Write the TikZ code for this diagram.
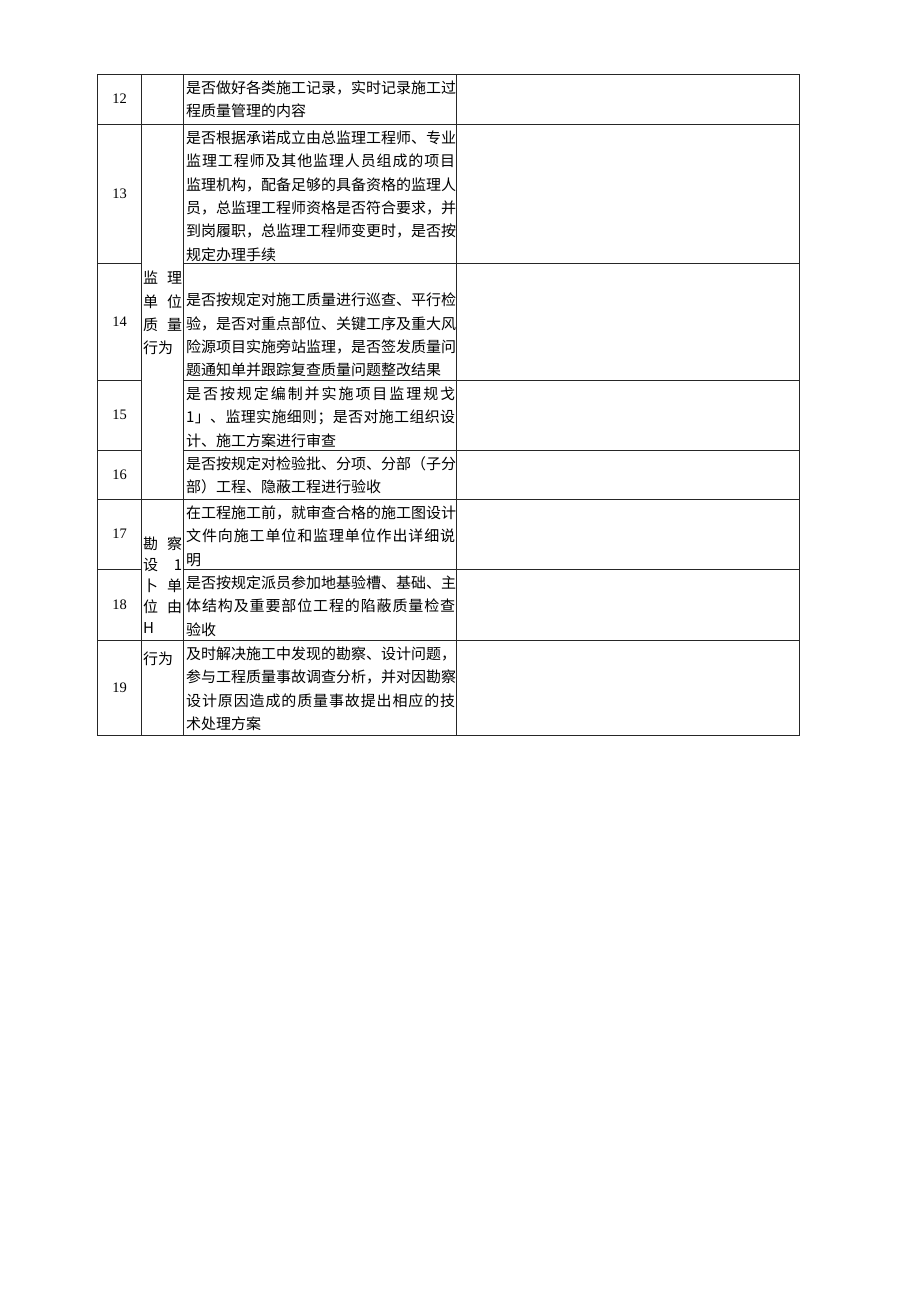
\documentclass[tikz,border=0pt]{standalone}
\usepackage{fontspec}
\setmainfont{Liberation Serif}
\newfontfamily\cjk{Noto Sans CJK SC}
% spread the characters of one line over the whole cell width
\newcommand\spreadaux[1]{\ifx\relax#1\else#1\hfil\expandafter\spreadaux\fi}
\newcommand\fullline[1]{\hbox to 269pt{\spreadaux#1\relax\unskip}}
\newcommand\lastline[1]{\hbox{#1}}
\newcommand\cellbox[2][23.4pt]{\vtop{\baselineskip=#1\lineskiplimit=-20pt\lineskip=0pt#2}}
\newcommand\pairline[2]{\hbox to 39pt{#1\hfil #2}}
\begin{document}
\begin{tikzpicture}[x=1pt,y=-1pt,
  rule/.style={draw=black!85,line width=0.7pt},
  num/.style={font=\fontsize{14.5}{16}\selectfont,inner sep=0pt},
  desc/.style={anchor=base west,inner sep=0pt,font=\cjk\fontsize{15}{23.4}\selectfont}]
\useasboundingbox (0,0) rectangle (920,1301);
% table rules
\draw[rule] (97.7,74) rectangle (799,735);
\draw[rule] (141.7,74) -- (141.7,735);
\draw[rule] (183.3,74) -- (183.3,735);
\draw[rule] (456.7,74) -- (456.7,735);
\draw[rule] (97.7,124) -- (799,124);
\draw[rule] (97.7,499) -- (799,499);
\draw[rule] (97.7,640) -- (799,640);
\draw[rule] (97.7,263) -- (141.7,263);
\draw[rule] (183.3,263) -- (799,263);
\draw[rule] (97.7,380) -- (141.7,380);
\draw[rule] (183.3,380) -- (799,380);
\draw[rule] (97.7,450) -- (141.7,450);
\draw[rule] (183.3,450) -- (799,450);
\draw[rule] (97.7,569) -- (141.7,569);
\draw[rule] (183.3,569) -- (799,569);
% numbers
\node[num] (n12) at (119.7,99) {12};
\node[num] (n13) at (119.7,193.5) {13};
\node[num] (n14) at (119.7,321.5) {14};
\node[num] (n15) at (119.7,415) {15};
\node[num] (n16) at (119.7,474.5) {16};
\node[num] (n17) at (119.7,534) {17};
\node[num] (n18) at (119.7,604.5) {18};
\node[num] (n19) at (119.7,687.5) {19};
% categories
\node[desc] (cat1) at (143,283.7) {\cellbox{\pairline{监}{理}\pairline{单}{位}\pairline{质}{量}\lastline{行为}}};
\node[desc] (cat2) at (143,549.7) {\cellbox[21pt]{\pairline{勘}{察}\pairline{设}{1}\pairline{卜}{单}\pairline{位}{由}\lastline{H}}};
\node[desc] (cat3) at (143,664.7) {行为};
% descriptions
\node[desc] (d12) at (186,93.2) {\cellbox{\fullline{是否做好各类施工记录，实时记录施工过}\lastline{程质量管理的内容}}};
\node[desc] (d13) at (186,143.2) {\cellbox{\fullline{是否根据承诺成立由总监理工程师、专业}\fullline{监理工程师及其他监理人员组成的项目}\fullline{监理机构，配备足够的具备资格的监理人}\fullline{员，总监理工程师资格是否符合要求，并}\fullline{到岗履职，总监理工程师变更时，是否按}\lastline{规定办理手续}}};
\node[desc] (d14) at (186,305.6) {\cellbox{\fullline{是否按规定对施工质量进行巡查、平行检}\fullline{验，是否对重点部位、关键工序及重大风}\fullline{险源项目实施旁站监理，是否签发质量问}\lastline{题通知单并跟踪复查质量问题整改结果}}};
\node[desc] (d15) at (186,399.2) {\cellbox{\fullline{是否按规定编制并实施项目监理规戈}\fullline{1」、监理实施细则；是否对施工组织设}\lastline{计、施工方案进行审查}}};
\node[desc] (d16) at (186,469.2) {\cellbox{\fullline{是否按规定对检验批、分项、分部（子分}\lastline{部）工程、隐蔽工程进行验收}}};
\node[desc] (d17) at (186,518.2) {\cellbox{\fullline{在工程施工前，就审查合格的施工图设计}\fullline{文件向施工单位和监理单位作出详细说}\lastline{明}}};
\node[desc] (d18) at (186,588.2) {\cellbox{\fullline{是否按规定派员参加地基验槽、基础、主}\fullline{体结构及重要部位工程的陷蔽质量检查}\lastline{验收}}};
\node[desc] (d19) at (186,659.2) {\cellbox{\fullline{及时解决施工中发现的勘察、设计问题，}\fullline{参与工程质量事故调查分析，并对因勘察}\fullline{设计原因造成的质量事故提出相应的技}\lastline{术处理方案}}};
\end{tikzpicture}
\end{document}
